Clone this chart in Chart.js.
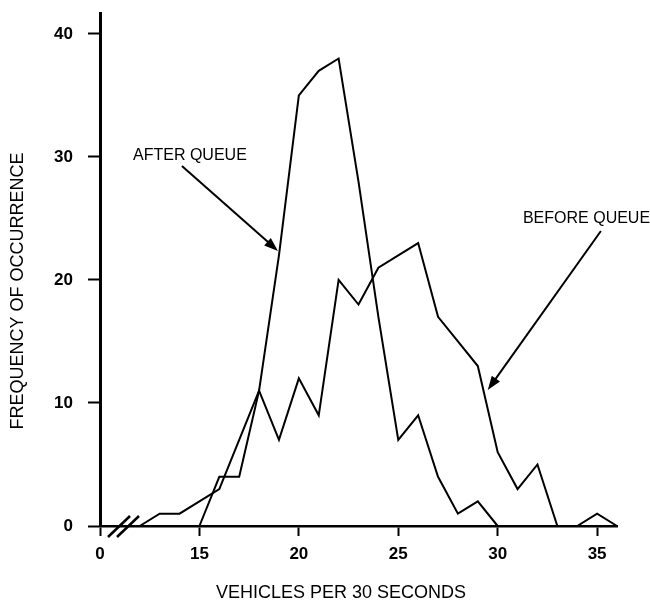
<!DOCTYPE html>
<html>
<head>
<meta charset="utf-8">
<script src="https://cdn.jsdelivr.net/npm/chart.js@4.4.1/dist/chart.umd.min.js"></script>
<style>
  html, body { margin: 0; padding: 0; background: #fff; }
  canvas { display: block; }
</style>
</head>
<body>
<canvas id="queue-chart" width="650" height="603"></canvas>
<script>
// vehicles per 30 seconds (x) vs frequency of occurrence (y)
const beforeX = [12, 13, 14, 15, 16, 17, 18, 19, 20, 21, 22, 23, 24, 25, 26, 27, 28, 29, 30, 31, 32, 33, 34, 35, 36];
const beforeY = [0, 1, 1, 2, 3, 7, 11, 7, 12, 9, 20, 18, 21, 22, 23, 17, 15, 13, 6, 3, 5, 0, 0, 1, 0];
const afterX = [15, 16, 17, 18, 19, 20, 21, 22, 23, 24, 25, 26, 27, 28, 29, 30];
const afterY = [0, 4, 4, 11, 22, 35, 37, 38, 28, 17, 7, 9, 4, 1, 2, 0];

// axis is broken: the first tick sits at 10 but reads "0"
const xTicks = [10, 15, 20, 25, 30, 35];
const xTickLabels = ['0', '15', '20', '25', '30', '35'];
const yTicks = [0, 10, 20, 30, 40];

const xTitle = 'VEHICLES PER 30 SECONDS';
const yTitle = 'FREQUENCY OF OCCURRENCE';

// label text, where it sits, and the arrow (all in data units)
const notes = [
    { text: 'AFTER QUEUE', x: 11.66, y: 30.1, fromX: 14.12, fromY: 29.27, toX: 18.95, toY: 22.36 },
    { text: 'BEFORE QUEUE', x: 31.27, y: 25.0, fromX: 35.19, fromY: 23.98, toX: 29.5, toY: 11.06 },
];

const toPoints = (xs, ys) => xs.map((x, i) => ({ x: x, y: ys[i] }));

const font = "'Liberation Sans', Arial, sans-serif";

const extrasPlugin = {
    id: 'extras',
    afterDraw(chart) {
        const ctx = chart.ctx;
        const xs = chart.scales.x;
        const ys = chart.scales.y;
        const area = chart.chartArea;
        ctx.save();
        ctx.fillStyle = '#000';
        ctx.strokeStyle = '#000';

        // axis titles
        ctx.font = `18px ${font}`;
        ctx.textAlign = 'center';
        ctx.textBaseline = 'middle';
        ctx.fillText(xTitle, 341, 593);
        ctx.save();
        ctx.translate(18, 291);
        ctx.rotate(-Math.PI / 2);
        ctx.fillText(yTitle, 0, 0);
        ctx.restore();

        // axis break
        const ox = xs.getPixelForValue(xs.min);
        const oy = area.bottom;
        ctx.lineWidth = 2.5;
        [8, 17].forEach(d => {
            ctx.beginPath();
            ctx.moveTo(ox + d, oy + 11);
            ctx.lineTo(ox + d + 22, oy - 10);
            ctx.stroke();
        });

        // labels with arrows
        ctx.font = `16px ${font}`;
        ctx.textAlign = 'left';
        notes.forEach(n => {
            ctx.fillText(n.text, xs.getPixelForValue(n.x), ys.getPixelForValue(n.y));
            const x0 = xs.getPixelForValue(n.fromX);
            const y0 = ys.getPixelForValue(n.fromY);
            const x1 = xs.getPixelForValue(n.toX);
            const y1 = ys.getPixelForValue(n.toY);
            const a = Math.atan2(y1 - y0, x1 - x0);
            ctx.lineWidth = 2;
            ctx.beginPath();
            ctx.moveTo(x0, y0);
            ctx.lineTo(x1 - 8 * Math.cos(a), y1 - 8 * Math.sin(a));
            ctx.stroke();
            ctx.beginPath();
            ctx.moveTo(x1, y1);
            ctx.lineTo(x1 - 14 * Math.cos(a) + 5 * Math.sin(a), y1 - 14 * Math.sin(a) - 5 * Math.cos(a));
            ctx.lineTo(x1 - 14 * Math.cos(a) - 5 * Math.sin(a), y1 - 14 * Math.sin(a) + 5 * Math.cos(a));
            ctx.closePath();
            ctx.fill();
        });
        ctx.restore();
    }
};

const lineStyle = {
    borderColor: '#000',
    borderWidth: 2,
    pointRadius: 0,
    tension: 0,
    fill: false,
    clip: false,
};

new Chart(document.getElementById('queue-chart'), {
    type: 'line',
    data: {
        datasets: [
            { label: 'BEFORE QUEUE', data: toPoints(beforeX, beforeY), ...lineStyle },
            { label: 'AFTER QUEUE', data: toPoints(afterX, afterY), ...lineStyle },
        ]
    },
    options: {
        responsive: false,
        animation: false,
        layout: { padding: { top: 13, right: 33, left: 0, bottom: 0 } },
        plugins: {
            legend: { display: false },
            tooltip: { enabled: false },
        },
        scales: {
            x: {
                type: 'linear',
                min: 10,
                max: 36,
                afterBuildTicks: scale => { scale.ticks = xTicks.map(v => ({ value: v })); },
                afterFit: scale => {
                    scale.height = 77;
                    scale.paddingLeft = 0;
                    scale.paddingRight = 0;
                },
                ticks: {
                    callback: v => xTickLabels[xTicks.indexOf(v)],
                    color: '#000',
                    padding: 8,
                    maxRotation: 0,
                    font: { family: font, size: 17, weight: 'bold' },
                },
                grid: { drawOnChartArea: false, tickLength: 10, tickWidth: 2, color: '#000' },
                border: { color: '#000', width: 2.5 },
            },
            y: {
                min: 0,
                max: 41.7,
                afterBuildTicks: scale => { scale.ticks = yTicks.map(v => ({ value: v })); },
                afterFit: scale => {
                    scale.width = 100;
                    scale.paddingTop = 0;
                    scale.paddingBottom = 0;
                },
                ticks: {
                    color: '#000',
                    padding: 15,
                    font: { family: font, size: 17, weight: 'bold' },
                },
                grid: { drawOnChartArea: false, tickLength: 12, tickWidth: 2, color: '#000' },
                border: { color: '#000', width: 3 },
            },
        },
    },
    plugins: [extrasPlugin],
});
</script>
</body>
</html>
